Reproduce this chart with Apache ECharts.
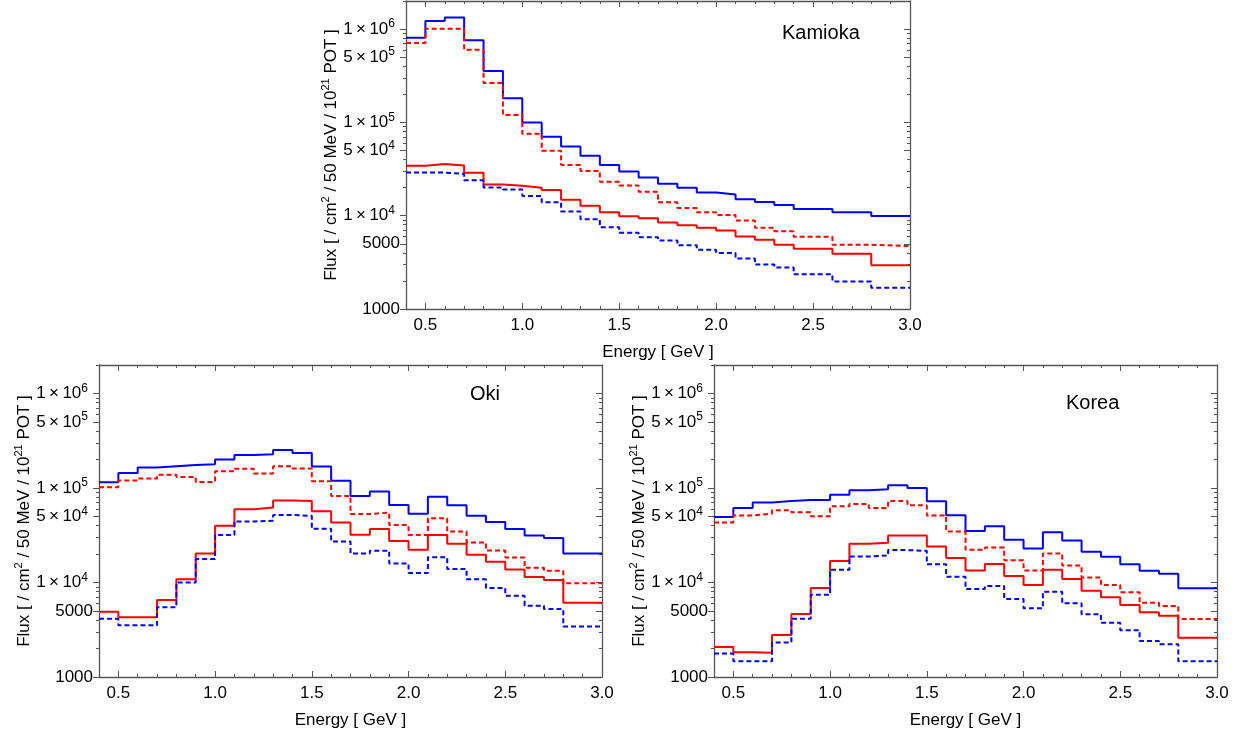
<!DOCTYPE html>
<html><head><meta charset="utf-8">
<script src="https://cdn.jsdelivr.net/npm/echarts@6/dist/echarts.min.js"></script>
<style>html,body{margin:0;padding:0;background:#fff}#c{width:1242px;height:736px}</style>
</head><body><div id="c"></div>
<script>
// Bin edges (GeV)
const binEdges = [0.4,0.5,0.6,0.7,0.8,0.9,1.0,1.1,1.2,1.3,1.4,1.5,1.6,1.7,1.8,1.9,2.0,2.1,2.2,2.3,2.4,2.5,2.6,2.7,2.8,3.0];
const xTickLabels = [0.5,1.0,1.5,2.0,2.5,3.0];
const yTickLabels = [1000,5000,1e4,5e4,1e5,5e5,1e6];
const panelNames = ['Kamioka','Oki','Korea'];

// Kamioka
const kamiokaBlueSolid = [8.1e5,1.22e6,1.33e6,7.6e5,3.55e5,1.82e5,1.0e5,7.0e4,5.5e4,4.4e4,3.5e4,2.97e4,2.56e4,2.2e4,1.99e4,1.77e4,1.69e4,1.5e4,1.4e4,1.3e4,1.18e4,1.18e4,1.09e4,1.09e4,9.95e3];
const kamiokaRedDashed = [7.1e5,1.01e6,1.01e6,6.0e5,2.64e5,1.2e5,7.55e4,4.97e4,3.5e4,3.02e4,2.31e4,2.11e4,1.81e4,1.39e4,1.21e4,1.09e4,1.02e4,8.87e3,7.41e3,6.82e3,5.94e3,5.94e3,4.88e3,4.88e3,4.72e3];
const kamiokaRedSolid = [3.42e4,3.59e4,3.45e4,2.88e4,2.16e4,2.09e4,1.99e4,1.88e4,1.48e4,1.28e4,1.09e4,9.87e3,9.38e3,8.45e3,7.91e3,7.41e3,6.94e3,5.98e3,5.52e3,4.88e3,4.43e3,4.43e3,3.92e3,3.92e3,2.94e3];
const kamiokaBlueDashed = [2.9e4,2.9e4,2.8e4,2.4e4,2.01e4,1.91e4,1.63e4,1.39e4,1.11e4,9.16e3,7.53e3,6.56e3,5.89e3,5.43e3,4.81e3,4.32e3,3.98e3,3.47e3,2.99e3,2.78e3,2.36e3,2.36e3,1.97e3,1.97e3,1.69e3];

// Oki
const okiBlueSolid = [1.15e5,1.44e5,1.65e5,1.7e5,1.75e5,1.78e5,2.0e5,2.23e5,2.28e5,2.52e5,2.34e5,1.69e5,1.19e5,8.24e4,9.16e4,6.62e4,5.35e4,8.05e4,6.56e4,5.09e4,4.37e4,3.68e4,3.15e4,2.95e4,2.03e4];
const okiRedDashed = [1.02e5,1.2e5,1.26e5,1.38e5,1.31e5,1.16e5,1.5e5,1.6e5,1.42e5,1.7e5,1.61e5,1.18e5,8.24e4,5.31e4,5.48e4,4.05e4,3.18e4,4.77e4,3.47e4,2.65e4,2.18e4,1.84e4,1.43e4,1.33e4,9.82e3];
const okiRedSolid = [4.91e3,4.3e3,4.28e3,6.53e3,1.08e4,2.03e4,3.99e4,5.95e4,6.2e4,7.35e4,7.3e4,5.66e4,4.3e4,3.2e4,3.68e4,2.74e4,2.22e4,3.18e4,2.57e4,1.96e4,1.66e4,1.37e4,1.14e4,1.06e4,6.11e3];
const okiBlueDashed = [4.13e3,3.52e3,3.52e3,5.46e3,9.97e3,1.77e4,3.18e4,4.43e4,4.5e4,5.19e4,5.07e4,3.7e4,2.72e4,2.03e4,2.17e4,1.59e4,1.26e4,1.85e4,1.39e4,1.08e4,8.75e3,7.26e3,5.68e3,5.24e3,3.43e3];

// Korea
const koreaBlueSolid = [4.93e4,6.15e4,7.0e4,7.3e4,7.48e4,7.48e4,8.5e4,9.46e4,9.7e4,1.07e5,1.0e5,7.23e4,5.13e4,3.51e4,3.93e4,2.83e4,2.29e4,3.39e4,2.78e4,2.11e4,1.87e4,1.56e4,1.33e4,1.24e4,8.69e3];
const koreaRedDashed = [4.32e4,5.1e4,5.35e4,5.8e4,5.52e4,5.01e4,6.4e4,6.78e4,6.15e4,7.3e4,6.56e4,5.1e4,3.47e4,2.22e4,2.34e4,1.72e4,1.34e4,2.03e4,1.51e4,1.13e4,9.42e3,7.88e3,6.11e3,5.64e3,4.1e3];
const koreaRedSolid = [2.08e3,1.83e3,1.8e3,2.79e3,4.64e3,8.75e3,1.69e4,2.57e4,2.64e4,3.15e4,3.15e4,2.4e4,1.82e4,1.34e4,1.57e4,1.17e4,9.42e3,1.36e4,1.09e4,8.2e3,6.97e3,5.78e3,4.83e3,4.45e3,2.6e3];
const koreaBlueDashed = [1.77e3,1.47e3,1.47e3,2.32e3,4.13e3,7.43e3,1.36e4,1.88e4,1.93e4,2.2e4,2.16e4,1.56e4,1.15e4,8.55e3,9.2e3,6.69e3,5.33e3,8.0e3,6.03e3,4.6e3,3.75e3,3.13e3,2.41e3,2.22e3,1.47e3];

const panels = [
  [kamiokaBlueSolid, kamiokaRedDashed, kamiokaRedSolid, kamiokaBlueDashed],
  [okiBlueSolid, okiRedDashed, okiRedSolid, okiBlueDashed],
  [koreaBlueSolid, koreaRedDashed, koreaRedSolid, koreaBlueDashed]
];

const F = 'Liberation Sans';
const AX = '#555';
const grids = [
  {left:406, top:1, width:504, height:308},
  {left:99, top:365, width:503, height:312},
  {left:714, top:365, width:503, height:312}
];
const titlePos = [{left:782, top:23},{left:470, top:384},{left:1066, top:393}];

const xMinorTicks = [];
for (let i = 4; i <= 30; i++) xMinorTicks.push(i / 10);
const yMinorTicks = [];
for (let k = 3; k <= 6; k++) for (let m = 1; m <= 9; m++) { const v = m * Math.pow(10, k); if (v <= 2e6) yMinorTicks.push(v); }

function yFmt(v) {
  const e = Math.floor(Math.log10(v) + 1e-9);
  const m = Math.round(v / Math.pow(10, e));
  if (e <= 3) return String(Math.round(v));
  return m + '\u2009\u00d7\u200910{s|' + e + '}';
}
const supStyle = {fontSize:12, fontFamily:F, color:'#000', padding:[0,5,10,0]};

const xAxis = [], yAxis = [], series = [];
const hidden = {axisLine:{show:false}, axisLabel:{show:false}, splitLine:{show:false}};
grids.forEach((g, gi) => {
  const xi = xAxis.length, yi = yAxis.length;
  xAxis.push({
    type:'value', gridIndex:gi, position:'bottom', min:0.4, max:3.0,
    name:'Energy [ GeV ]', nameLocation:'middle', nameGap:35,
    nameTextStyle:{fontSize:17, color:'#000', fontFamily:F},
    axisLine:{onZero:false, lineStyle:{color:AX, width:1.3}},
    axisTick:{inside:true, length:3, customValues:xMinorTicks, lineStyle:{color:AX}},
    axisLabel:{customValues:xTickLabels, formatter:v => Number(v).toFixed(1), fontSize:17, color:'#000', fontFamily:F, margin:8},
    splitLine:{show:false}
  });
  xAxis.push({
    type:'value', gridIndex:gi, position:'top', min:0.4, max:3.0,
    axisLine:{onZero:false, lineStyle:{color:AX, width:1.3}},
    axisTick:{inside:true, length:3, customValues:xMinorTicks, lineStyle:{color:AX}},
    axisLabel:{show:false}, splitLine:{show:false}
  });
  ['bottom','top'].forEach(p => xAxis.push(Object.assign({
    type:'value', gridIndex:gi, position:p, min:0.4, max:3.0,
    axisTick:{inside:true, length:6, customValues:xTickLabels, lineStyle:{color:AX}}
  }, hidden, {axisLine:{show:false, onZero:false}})));

  yAxis.push({
    type:'log', logBase:10, gridIndex:gi, position:'left', min:1000, max:2e6,
    name:'Flux [ / cm{s|2} / 50 MeV / 10{s|21} POT ]', nameLocation:'middle', nameGap:63, nameRotate:90,
    nameTextStyle:{fontSize:17, color:'#000', fontFamily:F, rich:{s:{fontSize:11, fontFamily:F, color:'#000', padding:[0,0,9,0]}}},
    axisLine:{show:true, lineStyle:{color:AX, width:1.3}},
    axisTick:{inside:false, length:3, customValues:yMinorTicks, lineStyle:{color:AX}},
    axisLabel:{customValues:yTickLabels, formatter:yFmt, fontSize:17, color:'#000', fontFamily:F, margin:6,
      rich:{s:supStyle}},
    splitLine:{show:false}
  });
  yAxis.push({
    type:'log', logBase:10, gridIndex:gi, position:'right', min:1000, max:2e6,
    axisLine:{show:true, lineStyle:{color:AX, width:1.3}},
    axisTick:{inside:true, length:3, customValues:yMinorTicks, lineStyle:{color:AX}},
    axisLabel:{show:false}, splitLine:{show:false}
  });
  yAxis.push(Object.assign({
    type:'log', logBase:10, gridIndex:gi, position:'left', min:1000, max:2e6,
    axisTick:{inside:false, length:6, customValues:yTickLabels, lineStyle:{color:AX}}
  }, hidden));
  yAxis.push(Object.assign({
    type:'log', logBase:10, gridIndex:gi, position:'right', min:1000, max:2e6,
    axisTick:{inside:true, length:6, customValues:yTickLabels, lineStyle:{color:AX}}
  }, hidden));

  const styles = [
    {color:'#0000ff', type:'solid'},
    {color:'#ff0000', type:[5,3]},
    {color:'#ff0000', type:'solid'},
    {color:'#0000ff', type:[5,3]}
  ];
  panels[gi].forEach((vals, si) => {
    const pts = vals.map((v, i) => [binEdges[i], v]);
    pts.push([binEdges[vals.length], vals[vals.length - 1]]);
    series.push({
      type:'line', step:'end', xAxisIndex:xi, yAxisIndex:yi, data:pts,
      showSymbol:false, symbol:'none', silent:true,
      lineStyle:{color:styles[si].color, type:styles[si].type, width:2}
    });
  });
});

const chart = echarts.init(document.getElementById('c'), null, {renderer:'canvas'});
chart.setOption({
  animation:false,
  backgroundColor:'#fff',
  title: panelNames.map((n, i) => ({text:n, left:titlePos[i].left, top:titlePos[i].top, padding:0,
    textStyle:{fontSize:20, fontWeight:'normal', color:'#000', fontFamily:F}})),
  grid: grids.map(g => Object.assign({containLabel:false}, g)),
  xAxis, yAxis, series
});
</script></body></html>
